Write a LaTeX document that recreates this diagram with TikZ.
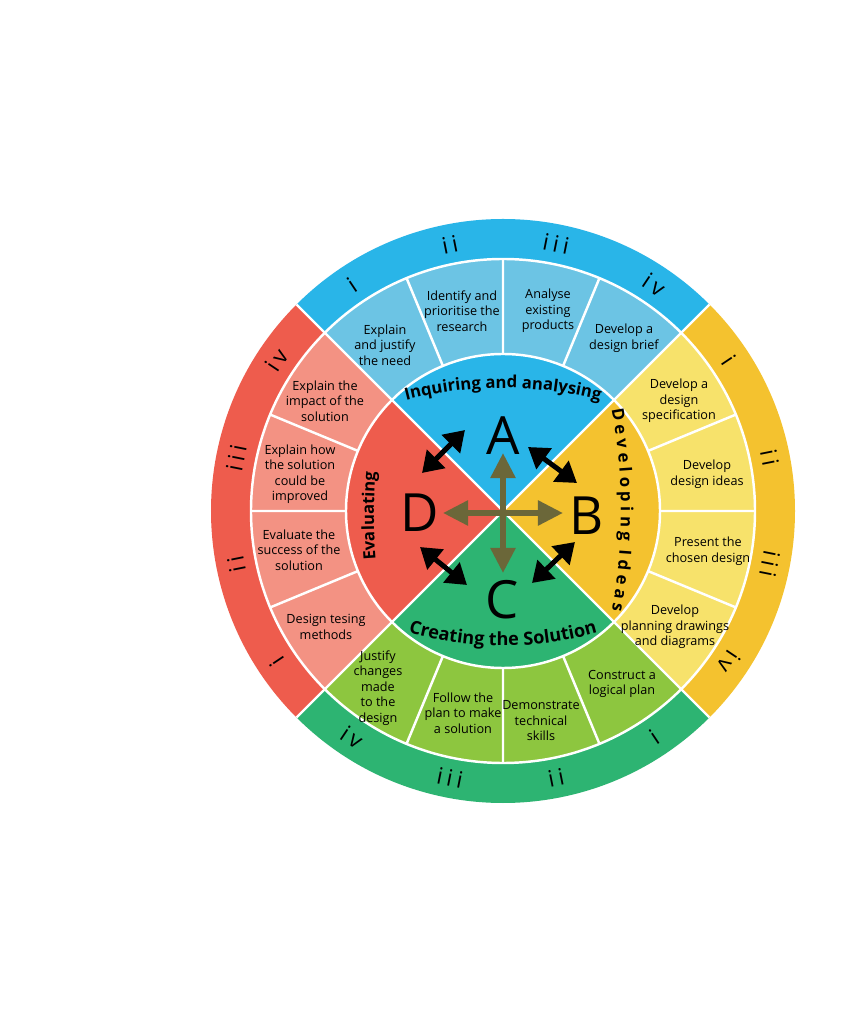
\documentclass[tikz,border=0pt]{standalone}
\usepackage{fontspec}
\setmainfont{Open Sans}
\usepackage{tikz}
\usetikzlibrary{arrows.meta,calc,decorations.text}
\definecolor{CritBlue}{HTML}{29B5E8}
\definecolor{CritBlueLight}{HTML}{6CC4E4}
\definecolor{CritYellow}{HTML}{F4C22F}
\definecolor{CritYellowLight}{HTML}{F7E26B}
\definecolor{CritGreen}{HTML}{2DB472}
\definecolor{CritGreenLight}{HTML}{8DC63F}
\definecolor{CritRed}{HTML}{EE5C4D}
\definecolor{CritRedLight}{HTML}{F39283}
\definecolor{HubOlive}{HTML}{6B6739}
\newcommand{\critfont}{\bfseries\fontsize{9.5}{9.5}\selectfont}
\newcommand{\critfontwide}{\bfseries\fontsize{10.3}{10.3}\selectfont}
\tikzset{
    % Strand text in the middle ring
    strandnode/.style={
        align=center,
        inner sep=0pt,
        font=\fontsize{7.2}{8.8}\selectfont
    },
    % Roman numerals in the outer ring
    numeralnode/.style={
        inner sep=0pt,
        font=\fontsize{13}{13}\selectfont
    },
    % Criterion letters
    letternode/.style={
        inner sep=0pt,
        font=\fontsize{30}{30}\selectfont
    },
    % Arrow between two letters
    duoarrow/.style={
        {Triangle[length=0.4cm,width=0.5cm]}-{Triangle[length=0.4cm,width=0.5cm]},
        line width=0.1cm,
        draw=black
    },
    % Arrow from the hub
    hubarrow/.style={
        -{Triangle[length=0.5cm,width=0.48cm]},
        line width=0.11cm,
        draw=HubOlive
    },
    % White separator lines
    divider/.style={
        draw=white,
        line width=1.4pt
    },
    % Curved criterion title
    titlepath/.style={
        decorate,
        decoration={text along path, text align=center, text={#1}}
    }
}

\begin{document}
\begin{tikzpicture}[x=0.02cm, y=0.02cm]
        \fill[white] (-503,-502) rectangle (344,511);
        \useasboundingbox (-503,-502) rectangle (344,511);

        % Outer ring
        \fill[CritBlue] (0,0) -- (45:292) arc[start angle=45, end angle=135, radius=292] -- cycle;
        \fill[CritRed] (0,0) -- (135:292) arc[start angle=135, end angle=225, radius=292] -- cycle;
        \fill[CritGreen] (0,0) -- (225:292) arc[start angle=225, end angle=315, radius=292] -- cycle;
        \fill[CritYellow] (0,0) -- (315:292) arc[start angle=315, end angle=405, radius=292] -- cycle;

        % Middle ring
        \fill[CritBlueLight] (0,0) -- (45:252) arc[start angle=45, end angle=135, radius=252] -- cycle;
        \fill[CritRedLight] (0,0) -- (135:252) arc[start angle=135, end angle=225, radius=252] -- cycle;
        \fill[CritGreenLight] (0,0) -- (225:252) arc[start angle=225, end angle=315, radius=252] -- cycle;
        \fill[CritYellowLight] (0,0) -- (315:252) arc[start angle=315, end angle=405, radius=252] -- cycle;

        % Inner disc
        \fill[CritBlue] (0,0) -- (45:157) arc[start angle=45, end angle=135, radius=157] -- cycle;
        \fill[CritRed] (0,0) -- (135:157) arc[start angle=135, end angle=225, radius=157] -- cycle;
        \fill[CritGreen] (0,0) -- (225:157) arc[start angle=225, end angle=315, radius=157] -- cycle;
        \fill[CritYellow] (0,0) -- (315:157) arc[start angle=315, end angle=405, radius=157] -- cycle;

        % Separators
        \draw[divider] (0,0) circle[radius=157] (0,0) circle[radius=252];
        \draw[divider] (45:292) -- (225:292) (135:292) -- (315:292);
        \draw[divider] (67.5:157) -- (67.5:252) (90:157) -- (90:252) (112.5:157) -- (112.5:252);
        \draw[divider] (157.5:157) -- (157.5:252) (180:157) -- (180:252) (202.5:157) -- (202.5:252);
        \draw[divider] (247.5:157) -- (247.5:252) (270:157) -- (270:252) (292.5:157) -- (292.5:252);
        \draw[divider] (337.5:157) -- (337.5:252) (0:157) -- (0:252) (22.5:157) -- (22.5:252);

        % Criterion A: Inquiring and analysing
        \node[numeralnode, rotate=33.75] (blue1) at (123.75:272) {i};
        \node[numeralnode, rotate=11.25] (blue2) at (101.25:272) {i\kern2.5pt i};
        \node[numeralnode, rotate=-11.25] (blue3) at (78.75:272) {i\kern2.5pt i\kern2.5pt i};
        \node[numeralnode, rotate=-33.75] (blue4) at (56.25:272) {i\kern2.5pt v};
        \node[strandnode] (a1) at (-118,166) {Explain\\and justify\\the need};
        \node[strandnode] (a2) at (-41,200) {Identify and\\prioritise the\\research};
        \node[strandnode] (a3) at (45,200) {Analyse\\existing\\products};
        \node[strandnode] (a4) at (121,173) {Develop a\\design brief};
        \path[titlepath={|\critfont|Inquiring and analysing}] ([shift={(0,-267)}]110:390) arc[start angle=110, end angle=70, radius=390];

        % Criterion B: Developing ideas
        \node[numeralnode, rotate=-56.25] (yellow1) at (33.75:272) {i};
        \node[numeralnode, rotate=-78.75] (yellow2) at (11.25:272) {i\kern2.5pt i};
        \node[numeralnode, rotate=-101.25] (yellow3) at (-11.25:272) {i\kern2.5pt i\kern2.5pt i};
        \node[numeralnode, rotate=-123.75] (yellow4) at (-33.75:272) {i\kern2.5pt v};
        \node[strandnode] (b1) at (176,110) {Develop a\\design\\specification};
        \node[strandnode] (b2) at (204,37) {Develop\\design ideas};
        \node[strandnode] (b3) at (205,-40) {Present the\\chosen design};
        \node[strandnode] (b4) at (172,-116) {Develop\\planning drawings\\and diagrams};
        \path[titlepath={|\critfont|D e v e l o p i n g}] ([shift={(-442,0)}]11.2:560) arc[start angle=11.2, end angle=-3.8, radius=560];
        \path[titlepath={|\critfont|I d e a s}] ([shift={(-442,0)}]-2.4:560) arc[start angle=-2.4, end angle=-11.8, radius=560];

        % Criterion C: Creating the solution
        \node[numeralnode, rotate=33.75] (green1) at (303.75:272) {i};
        \node[numeralnode, rotate=11.25] (green2) at (281.25:272) {i\kern2.5pt i};
        \node[numeralnode, rotate=-11.25] (green3) at (258.75:272) {i\kern2.5pt i\kern2.5pt i};
        \node[numeralnode, rotate=-33.75] (green4) at (236.25:272) {i\kern2.5pt v};
        \node[strandnode] (c1) at (119,-173) {Construct a\\logical plan};
        \node[strandnode] (c2) at (38,-210) {Demonstrate\\technical\\skills};
        \node[strandnode] (c3) at (-40,-202) {Follow the\\plan to make\\a solution};
        \node[strandnode] (c4) at (-125,-177) {Justify\\changes\\made\\to the\\design};
        \path[titlepath={|\critfontwide|Creating the Solution}] ([shift={(0,206)}]250:341) arc[start angle=250, end angle=290, radius=341];

        % Criterion D: Evaluating
        \node[numeralnode, rotate=123.75] (red1) at (213.75:272) {i};
        \node[numeralnode, rotate=101.25] (red2) at (191.25:272) {i\kern2.5pt i};
        \node[numeralnode, rotate=78.75] (red3) at (168.75:272) {i\kern2.5pt i\kern2.5pt i};
        \node[numeralnode, rotate=56.25] (red4) at (146.25:272) {i\kern2.5pt v};
        \node[strandnode] (d1) at (-178,110) {Explain the\\impact of the\\solution};
        \node[strandnode] (d2) at (-203,37) {Explain how\\the solution\\could be\\improved};
        \node[strandnode] (d3) at (-204,-39) {Evaluate the\\success of the\\solution};
        \node[strandnode] (d4) at (-177,-116) {Design tesing\\methods};
        \path[titlepath={|\critfont|Evaluating}] ([shift={(471,-5)}]186:600) arc[start angle=186, end angle=174, radius=600];

        % Letters and arrows
        \coordinate (hub) at (0,-2);
        \node[letternode] (A) at (0,75) {A};
        \node[letternode] (B) at (84,-5) {B};
        \node[letternode] (C) at (-1,-89) {C};
        \node[letternode] (D) at (-83,-2) {D};
        \draw[hubarrow] (hub) -- ($(hub)!1.2cm!(hub -| A)$);
        \draw[hubarrow] (hub) -- ($(hub)!1.2cm!(hub -| B)$);
        \draw[hubarrow] (hub) -- ($(hub)!1.2cm!(hub |- C)$);
        \draw[hubarrow] (hub) -- ($(hub)!1.2cm!(hub -| D)$);
        \draw[duoarrow] ($(D)+(2,40)$) -- ($(A)+(-38,6)$);
        \draw[duoarrow] ($(A)+(25,-11)$) -- ($(B)+(-10,33)$);
        \draw[duoarrow] ($(B)+(-12,-26)$) -- ($(C)+(30,17)$);
        \draw[duoarrow] ($(C)+(-35,15)$) -- ($(D)+(0,-34)$);
    \end{tikzpicture}
\end{document}
